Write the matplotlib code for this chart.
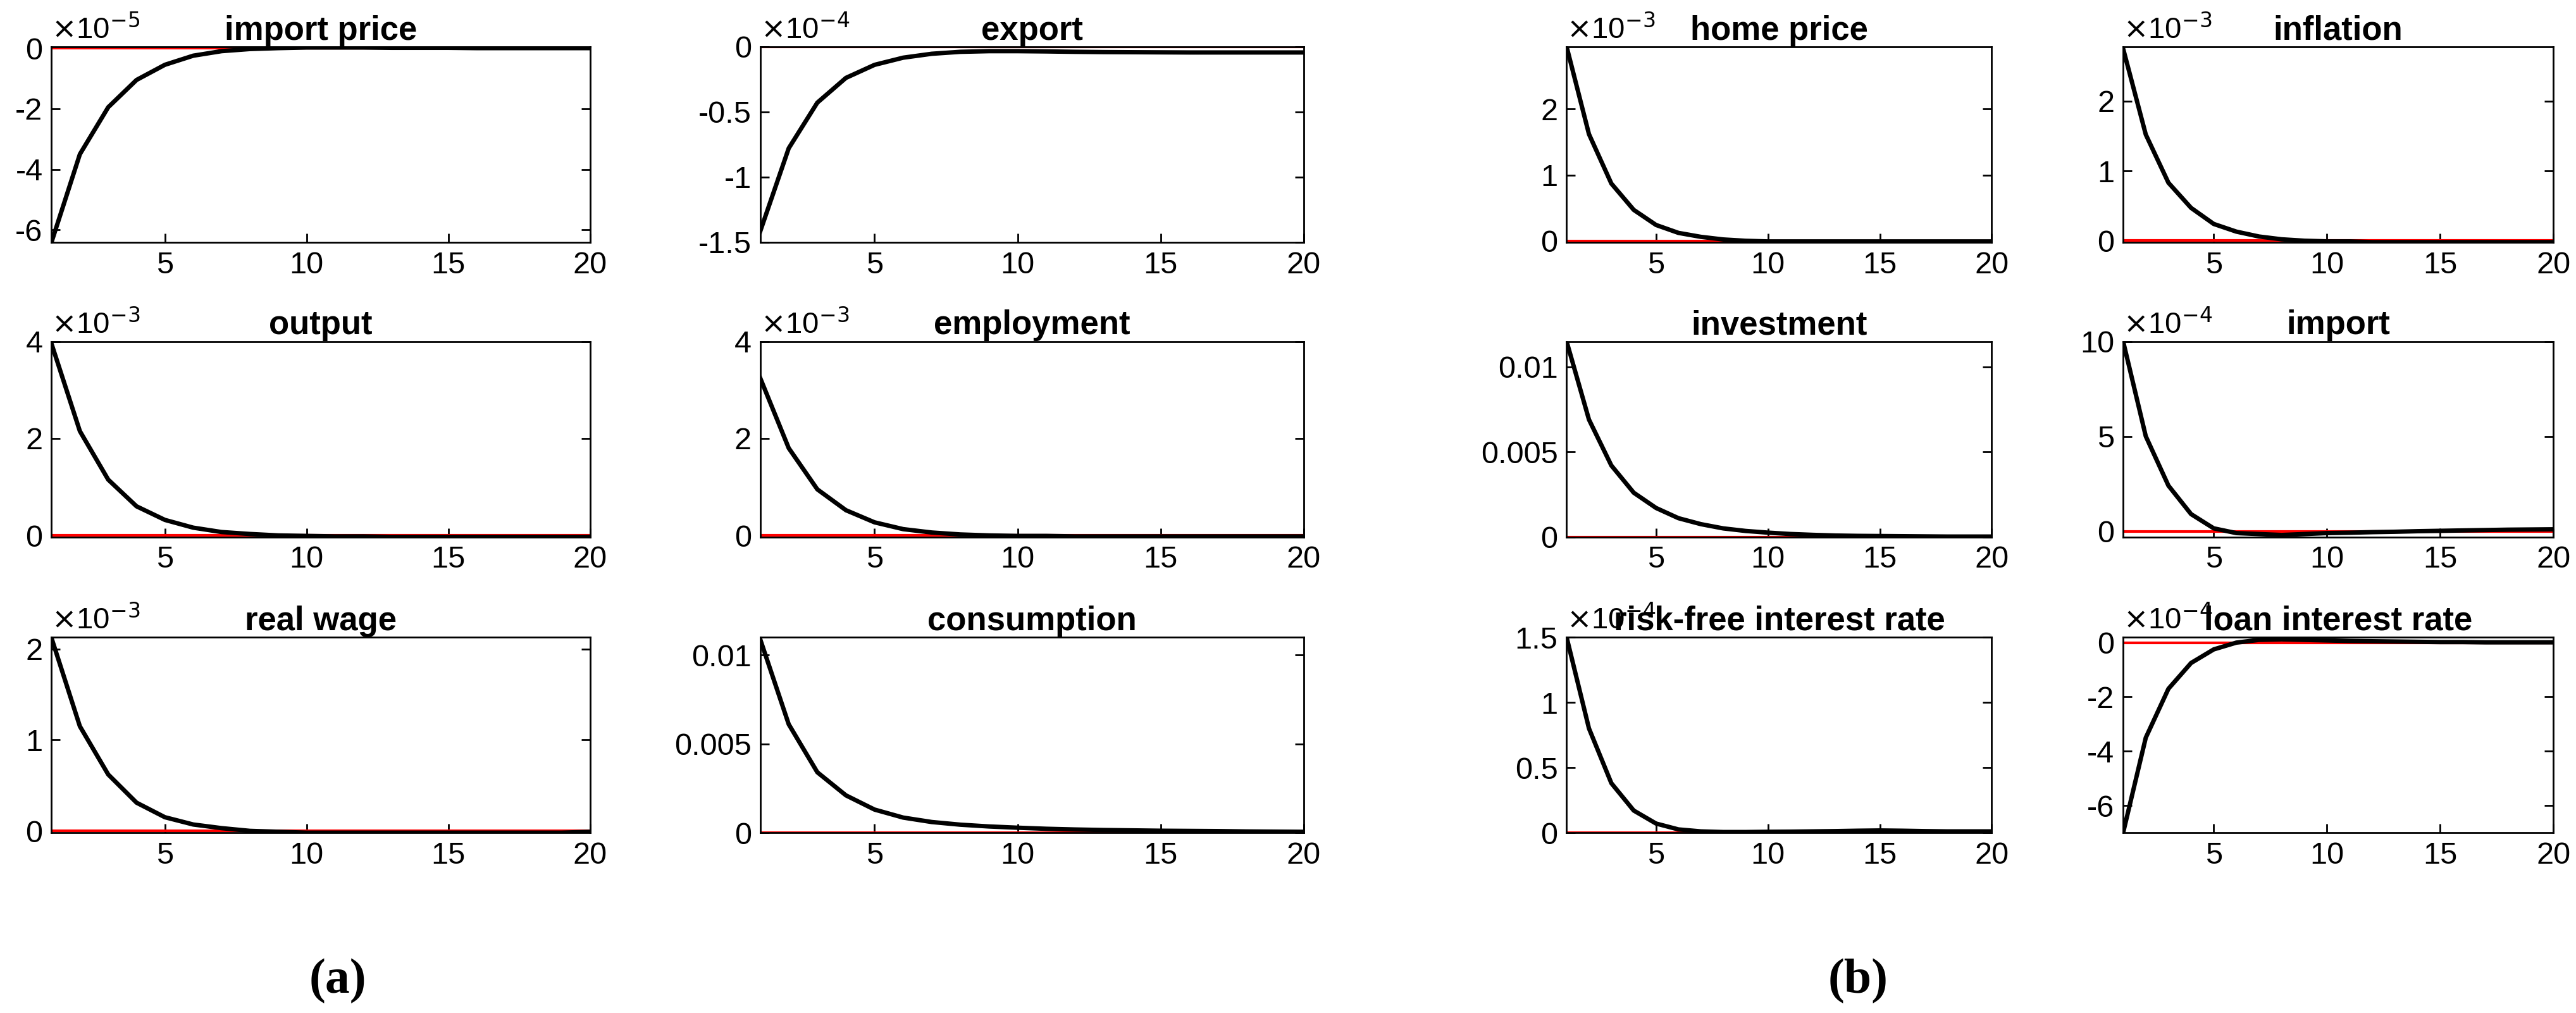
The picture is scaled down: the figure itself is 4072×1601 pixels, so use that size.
import matplotlib.pyplot as plt

plt.rcParams['font.family'] = ['Liberation Sans', 'DejaVu Sans']

periods = list(range(1, 21))

# values as shown on each axis, with the axis exponent (None = plain)
import_price = [-6.4, -3.5, -1.95, -1.05, -0.55, -0.25, -0.1, -0.03, 0.0, 0.02,
                0.02, 0.02, 0.01, 0.01, 0.01, 0.0, 0.0, 0.0, 0.0, 0.0]
export = [-1.42, -0.78, -0.43, -0.24, -0.14, -0.085, -0.055, -0.04, -0.035, -0.035,
          -0.037, -0.04, -0.042, -0.043, -0.044, -0.045, -0.045, -0.045, -0.045, -0.045]
output = [3.95, 2.15, 1.15, 0.6, 0.32, 0.16, 0.07, 0.03, 0.0, -0.01,
          -0.02, -0.02, -0.03, -0.03, -0.03, -0.03, -0.03, -0.03, -0.03, -0.03]
employment = [3.25, 1.8, 0.95, 0.52, 0.27, 0.13, 0.06, 0.02, 0.0, -0.01,
              -0.01, -0.02, -0.02, -0.02, -0.02, -0.02, -0.02, -0.02, -0.02, -0.02]
real_wage = [2.12, 1.15, 0.62, 0.31, 0.15, 0.07, 0.03, 0.0, -0.01, -0.02,
             -0.02, -0.02, -0.02, -0.02, -0.02, -0.02, -0.02, -0.02, -0.02, -0.01]
consumption = [0.0109, 0.0061, 0.0034, 0.0021, 0.0013, 0.00085, 0.0006, 0.00045, 0.00035, 0.00028,
               0.00022, 0.00018, 0.00015, 0.00013, 0.00011, 0.0001, 0.00009, 0.00007, 0.00006, 0.00005]
home_price = [2.95, 1.62, 0.87, 0.47, 0.24, 0.12, 0.06, 0.02, 0.0, -0.01,
              -0.01, -0.01, -0.01, -0.01, -0.01, -0.01, -0.01, -0.01, -0.01, -0.01]
inflation = [2.75, 1.52, 0.83, 0.47, 0.24, 0.13, 0.06, 0.02, 0.0, -0.01,
             -0.01, -0.02, -0.02, -0.02, -0.02, -0.02, -0.02, -0.02, -0.02, -0.02]
investment = [0.0115, 0.0069, 0.0042, 0.0026, 0.0017, 0.0011, 0.00075, 0.0005, 0.00035, 0.00025,
              0.00017, 0.00012, 0.00008, 0.00006, 0.00005, 0.00004, 0.00003, 0.00002, 0.00002, 0.00002]
imports = [10.0, 5.0, 2.4, 0.9, 0.15, -0.1, -0.15, -0.2, -0.15, -0.1,
           -0.08, -0.05, -0.03, 0.0, 0.02, 0.04, 0.06, 0.08, 0.09, 0.1]
risk_free = [1.5, 0.8, 0.38, 0.17, 0.07, 0.025, 0.01, 0.005, 0.005, 0.007,
             0.008, 0.01, 0.012, 0.015, 0.017, 0.015, 0.012, 0.01, 0.01, 0.01]
loan_rate = [-7.0, -3.5, -1.7, -0.75, -0.25, 0.0, 0.1, 0.12, 0.1, 0.08,
             0.06, 0.05, 0.04, 0.03, 0.02, 0.02, 0.01, 0.01, 0.01, 0.01]

panels = [
    ("import price", import_price, -5, (-6.4, 0.05), [-6, -4, -2, 0], None),
    ("export", export, -4, (-1.5, 0.0), [-1.5, -1, -0.5, 0], None),
    ("home price", home_price, -3, (-0.02, 2.95), [0, 1, 2], None),
    ("inflation", inflation, -3, (-0.02, 2.78), [0, 1, 2], None),
    ("output", output, -3, (-0.03, 4.0), [0, 2, 4], None),
    ("employment", employment, -3, (-0.03, 4.0), [0, 2, 4], None),
    ("investment", investment, None, (0, 0.0115), [0, 0.005, 0.01], ["0", "0.005", "0.01"]),
    ("import", imports, -4, (-0.3, 10.0), [0, 5, 10], None),
    ("real wage", real_wage, -3, (-0.02, 2.13), [0, 1, 2], None),
    ("consumption", consumption, None, (0, 0.011), [0, 0.005, 0.01], ["0", "0.005", "0.01"]),
    ("risk-free interest rate", risk_free, -4, (0, 1.5), [0, 0.5, 1, 1.5], None),
    ("loan interest rate", loan_rate, -4, (-7.0, 0.2), [-6, -4, -2, 0], None),
]

fig = plt.figure(figsize=(40.73, 16.01), dpi=100)
lefts = [0.020, 0.295, 0.608, 0.824]
widths = [0.209, 0.211, 0.165, 0.167]
bottoms = [0.761, 0.470, 0.178]
h = 0.193

for i, (title, vals, expo, ylim, yt, ytl) in enumerate(panels):
    r, c = divmod(i, 4)
    ax = fig.add_axes([lefts[c], bottoms[r], widths[c], h])
    ax.axhline(0, color='red', lw=3)
    ax.plot(periods, vals, color='black', lw=5)
    ax.set_xlim(1, 20)
    ax.set_ylim(*ylim)
    ax.set_xticks([5, 10, 15, 20])
    ax.set_yticks(yt)
    if ytl:
        ax.set_yticklabels(ytl)
    else:
        ax.set_yticklabels([f"{v:g}" for v in yt])
    ax.tick_params(direction='in', length=10, width=2, labelsize=35, right=True, pad=10)
    for s in ax.spines.values():
        s.set_linewidth(2)
    ax.set_title(title, fontsize=38, fontweight='bold', pad=8)
    if expo is not None:
        ax.text(0.0, 1.01, r"$\times$10$^{%d}$" % expo, transform=ax.transAxes,
                fontsize=34, ha='left', va='bottom')

fig.text(0.131, 0.02, "(a)", fontsize=56, family=['Liberation Serif'], fontweight='bold', ha='center')
fig.text(0.721, 0.02, "(b)", fontsize=56, family=['Liberation Serif'], fontweight='bold', ha='center')

fig.savefig("out.png", dpi=100)
